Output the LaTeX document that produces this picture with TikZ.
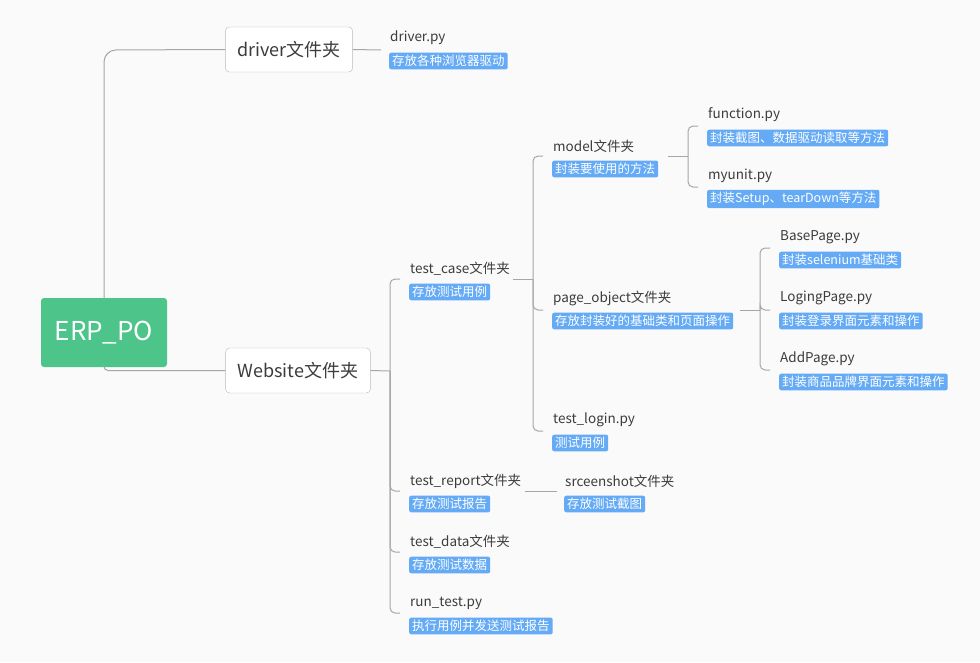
\documentclass[tikz,border=0pt]{standalone}
\usepackage{fontspec}
\setmainfont{Noto Sans CJK SC}
\usetikzlibrary{positioning}
\definecolor{rootgreen}{RGB}{77,196,138}
\definecolor{noteblue}{RGB}{100,170,245}
\definecolor{bg}{RGB}{250,250,250}
\definecolor{txt}{RGB}{60,60,60}
\tikzset{
  root/.style={rectangle,fill=rootgreen,text=white,rounded corners=3pt,minimum width=126pt,minimum height=69pt,font=\fontsize{26}{28}\selectfont},
  folder/.style={rectangle,draw=gray!55,fill=white,text=txt,rounded corners=4pt,minimum height=45pt,inner xsep=12pt,font=\fontsize{18}{20}\selectfont},
  topic/.style={anchor=west,inner sep=0pt,text=txt,font=\fontsize{13.5}{16}\selectfont},
  note/.style={anchor=west,fill=noteblue,text=white,rounded corners=2pt,inner xsep=3pt,inner ysep=2.5pt,font=\fontsize{12.5}{14}\selectfont},
  edge/.style={draw=gray!70,line width=1pt,rounded corners=5pt},
}
\begin{document}
\begin{tikzpicture}[x=1pt,y=-1pt]
    \fill[bg] (0,0) rectangle (980,662);
    \useasboundingbox (0,0) rectangle (980,662);

    % main boxes
    \node[root] (erp) at (104,332.5) {ERP\_PO};
    \node[folder,minimum width=124pt] (drv) at (289,49.5) {driver文件夹};
    \node[folder,minimum width=142pt] (web) at (298,370.5) {Website文件夹};
    \draw[edge,rounded corners=12pt] (erp.north) -- (104,50) -- (drv.west);
    \draw[edge,rounded corners=4pt] (erp.south) |- (web.west);

    % driver
    \node[topic] (drvpy) at (390,38) {driver.py};
    \node[note] (drvpyn) at (389,61) {存放各种浏览器驱动};
    \coordinate (drvpyc) at (381,50);
    \draw[edge] (drv.east) -- (drvpyc);

    % website children
    \node[topic] (case) at (410,269) {test\_case文件夹};
    \node[note] (casen) at (409,292) {存放测试用例};
    \node[topic] (report) at (410,481) {test\_report文件夹};
    \node[note] (reportn) at (409,504) {存放测试报告};
    \node[topic] (data) at (410,542) {test\_data文件夹};
    \node[note] (datan) at (409,565) {存放测试数据};
    \node[topic] (run) at (410,603) {run\_test.py};
    \node[note] (runn) at (409,626) {执行用例并发送测试报告};
    \coordinate (casec) at (400,279);
    \coordinate (reportc) at (400,491);
    \coordinate (datac) at (400,552);
    \coordinate (runc) at (400,613);
    \coordinate (webb) at (390,371);
    \draw[edge] (web.east) -- (webb);
    \foreach \c in {casec,reportc,datac,runc}
        \draw[edge] (webb) |- (\c);

    % test_case children
    \node[topic] (model) at (553,146) {model文件夹};
    \node[note] (modeln) at (552,169) {封装要使用的方法};
    \node[topic] (page) at (553,298) {page\_object文件夹};
    \node[note] (pagen) at (552,321) {存放封装好的基础类和页面操作};
    \node[topic] (login) at (553,420) {test\_login.py};
    \node[note] (loginn) at (552,443) {测试用例};
    \coordinate (casee) at (513,279);
    \coordinate (caseb) at (533,279);
    \coordinate (modelc) at (543,156);
    \coordinate (pagec) at (543,310);
    \coordinate (loginc) at (543,431);
    \draw[edge] (casee) -- (caseb);
    \foreach \c in {modelc,pagec,loginc}
        \draw[edge] (caseb) |- (\c);

    % model children
    \node[topic] (func) at (708,115) {function.py};
    \node[note] (funcn) at (707,138) {封装截图、数据驱动读取等方法};
    \node[topic] (unit) at (708,176) {myunit.py};
    \node[note] (unitn) at (707,199) {封装Setup、tearDown等方法};
    \coordinate (modele) at (668,156);
    \coordinate (modelb) at (688,156);
    \coordinate (funcc) at (698,126);
    \coordinate (unitc) at (698,187);
    \draw[edge] (modele) -- (modelb);
    \foreach \c in {funcc,unitc}
        \draw[edge] (modelb) |- (\c);

    % page_object children
    \node[topic] (base) at (780,237) {BasePage.py};
    \node[note] (basen) at (779,260) {封装selenium基础类};
    \node[topic] (loging) at (780,298) {LogingPage.py};
    \node[note] (logingn) at (779,321) {封装登录界面元素和操作};
    \node[topic] (add) at (780,359) {AddPage.py};
    \node[note] (addn) at (779,382) {封装商品品牌界面元素和操作};
    \coordinate (pagee) at (740,310);
    \coordinate (pageb) at (760,310);
    \coordinate (basec) at (770,248);
    \coordinate (logingc) at (770,310);
    \coordinate (addc) at (770,370);
    \draw[edge] (pagee) -- (pageb);
    \foreach \c in {basec,logingc,addc}
        \draw[edge] (pageb) |- (\c);

    % test_report child
    \node[topic] (shot) at (565,481) {srceenshot文件夹};
    \node[note] (shotn) at (564,504) {存放测试截图};
    \coordinate (reporte) at (525,491);
    \coordinate (shotc) at (557,491);
    \draw[edge] (reporte) -- (shotc);
\end{tikzpicture}
\end{document}
